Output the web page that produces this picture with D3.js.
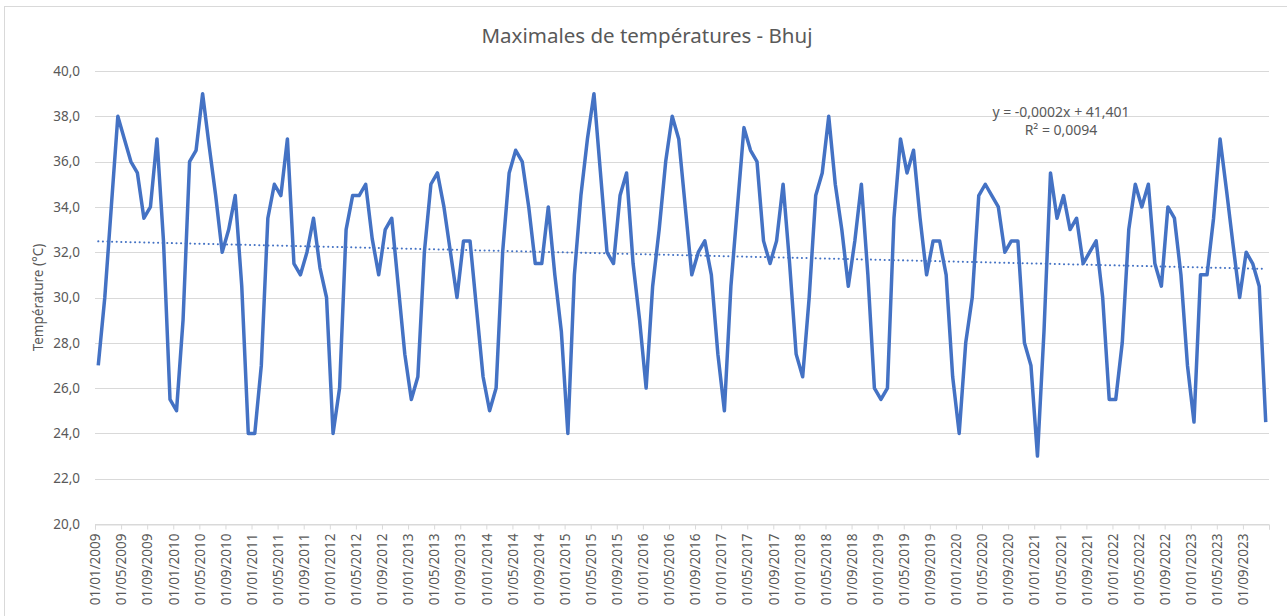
<!DOCTYPE html>
<html>
<head>
	<title>Maximales de températures - Bhuj</title>
	<meta charset="utf-8">
	<style type="text/css">
		body { margin: 0; background: #fff; }
		text { font-family: "Noto Sans", "Open Sans", sans-serif; fill: #595959; }
	</style>
</head>
<body>

<script type="text/javascript" src="https://cdn.jsdelivr.net/npm/d3@7"></script>
<script type="text/javascript">
	// data : max monthly temperature, jan 2009 -> dec 2023
	var startDate = new Date(2009, 0, 1);
	var monthCount = 180;
	var temps = [
		27, 30, 34, 38, 37, 36, 35.5, 33.5, 34, 37, 32.5, 25.5,      // 2009
		25, 29, 36, 36.5, 39, 36.7, 34.5, 32, 33, 34.5, 30.5, 24,    // 2010
		24, 27, 33.5, 35, 34.5, 37, 31.5, 31, 32, 33.5, 31.3, 30,    // 2011
		24, 26, 33, 34.5, 34.5, 35, 32.6, 31, 33, 33.5, 30.5, 27.5,  // 2012
		25.5, 26.5, 32, 35, 35.5, 34, 32, 30, 32.5, 32.5, 29.5, 26.5,// 2013
		25, 26, 32, 35.5, 36.5, 36, 34, 31.5, 31.5, 34, 31, 28.5,    // 2014
		24, 31, 34.5, 37, 39, 35.5, 32, 31.5, 34.5, 35.5, 31.5, 29,  // 2015
		26, 30.5, 33, 36, 38, 37, 34, 31, 32, 32.5, 31, 27.5,        // 2016
		25, 30.5, 34, 37.5, 36.5, 36, 32.5, 31.5, 32.5, 35, 31.5, 27.5, // 2017
		26.5, 30, 34.5, 35.5, 38, 35, 33, 30.5, 32.5, 35, 31, 26,    // 2018
		25.5, 26, 33.5, 37, 35.5, 36.5, 33.5, 31, 32.5, 32.5, 31, 26.5, // 2019
		24, 28, 30, 34.5, 35, 34.5, 34, 32, 32.5, 32.5, 28, 27,      // 2020
		23, 28.5, 35.5, 33.5, 34.5, 33, 33.5, 31.5, 32, 32.5, 30, 25.5, // 2021
		25.5, 28, 33, 35, 34, 35, 31.5, 30.5, 34, 33.5, 31, 27,      // 2022
		24.5, 31, 31, 33.5, 37, 34.7, 32.3, 30, 32, 31.5, 30.5, 24.5 // 2023
	];
	var yTicks = [20, 22, 24, 26, 28, 30, 32, 34, 36, 38, 40];
	var tickStep = 4; // months between x labels
	var title = "Maximales de températures - Bhuj";
	var yTitle = "Température (°C)";
	var eqLines = ["y = -0,0002x + 41,401", "R² = 0,0094"];

	// sizes
	var w = 1287, h = 616;
	var margin = {top: 71, right: 18, bottom: 92, left: 95};
	var blue = "#4472c4";

	var svg = d3.select("body").append("svg").attr("width", w).attr("height", h);

	// chart border
	svg.append("rect")
		.attr("x", 4.5).attr("y", 6.5)
		.attr("width", w + 10).attr("height", h + 10)
		.attr("fill", "none").attr("stroke", "#d9d9d9");

	var x = d3.scaleLinear().domain([0, monthCount]).range([margin.left, w - margin.right]);
	var y = d3.scaleLinear().domain([20, 40]).range([h - margin.bottom, margin.top]);

	var fr = d3.formatLocale({decimal: ",", thousands: " ", grouping: [3], currency: ["", "€"]});
	var fmtY = fr.format(".1f");
	var fmtDate = d3.timeFormat("%d/%m/%Y");

	// gridlines
	svg.append("g").selectAll("line")
		.data(yTicks)
		.enter().append("line")
		.attr("x1", x(0)).attr("x2", x(monthCount))
		.attr("y1", d => Math.round(y(d)) + 0.5).attr("y2", d => Math.round(y(d)) + 0.5)
		.attr("stroke", "#d9d9d9").attr("stroke-width", 1);

	// y axis labels
	svg.append("g").selectAll("text")
		.data(yTicks)
		.enter().append("text")
		.attr("x", margin.left - 15)
		.attr("y", d => y(d))
		.attr("dy", "0.35em")
		.attr("text-anchor", "end")
		.attr("font-size", 13.5)
		.text(d => fmtY(d));

	// x axis
	var xAxis = d3.axisBottom(x)
		.tickValues(d3.range(0, monthCount + 1, tickStep))
		.tickSize(5)
		.tickFormat(d => d < monthCount ? fmtDate(d3.timeMonth.offset(startDate, d)) : "");
	var gx = svg.append("g")
		.attr("transform", "translate(0," + (Math.round(y(20)) + 0.5) + ")")
		.call(xAxis);
	gx.select(".domain").attr("stroke", "#d9d9d9");
	gx.selectAll(".tick line").attr("stroke", "#d9d9d9");
	gx.selectAll(".tick text")
		.attr("font-size", 13.5)
		.attr("fill", "#595959")
		.attr("font-family", "Noto Sans")
		.attr("transform", "rotate(-90)")
		.attr("text-anchor", "end")
		.attr("x", -9)
		.attr("y", 0)
		.attr("dy", "0.35em");

	// trend line (least squares on month index)
	var xs = temps.map((d, i) => i + 0.5);
	var mx = d3.mean(xs), my = d3.mean(temps);
	var slope = d3.sum(xs, (d, i) => (d - mx) * (temps[i] - my)) / d3.sum(xs, d => (d - mx) * (d - mx));
	var icpt = my - slope * mx;
	svg.append("line")
		.attr("x1", x(xs[0])).attr("y1", y(icpt + slope * xs[0]))
		.attr("x2", x(xs[xs.length - 1])).attr("y2", y(icpt + slope * xs[xs.length - 1]))
		.attr("stroke", blue).attr("stroke-width", 2)
		.attr("stroke-dasharray", "0.1 4.5").attr("stroke-linecap", "round");

	// main series
	var line = d3.line()
		.x((d, i) => x(i + 0.5))
		.y(d => y(d));
	svg.append("path")
		.datum(temps)
		.attr("d", line)
		.attr("fill", "none")
		.attr("stroke", blue)
		.attr("stroke-width", 3.5)
		.attr("stroke-linejoin", "round");

	// titles
	svg.append("text")
		.attr("x", 647).attr("y", 43)
		.attr("text-anchor", "middle")
		.attr("font-size", 20.5)
		.text(title);

	svg.append("text")
		.attr("transform", "translate(43," + ((y(20) + y(40)) / 2) + ") rotate(-90)")
		.attr("text-anchor", "middle")
		.attr("font-size", 13.5)
		.text(yTitle);

	// trend equation
	svg.append("g").selectAll("text")
		.data(eqLines)
		.enter().append("text")
		.attr("x", 1061)
		.attr("y", (d, i) => 117 + i * 18)
		.attr("text-anchor", "middle")
		.attr("font-size", 14)
		.text(d => d);
</script>
</body>
</html>
